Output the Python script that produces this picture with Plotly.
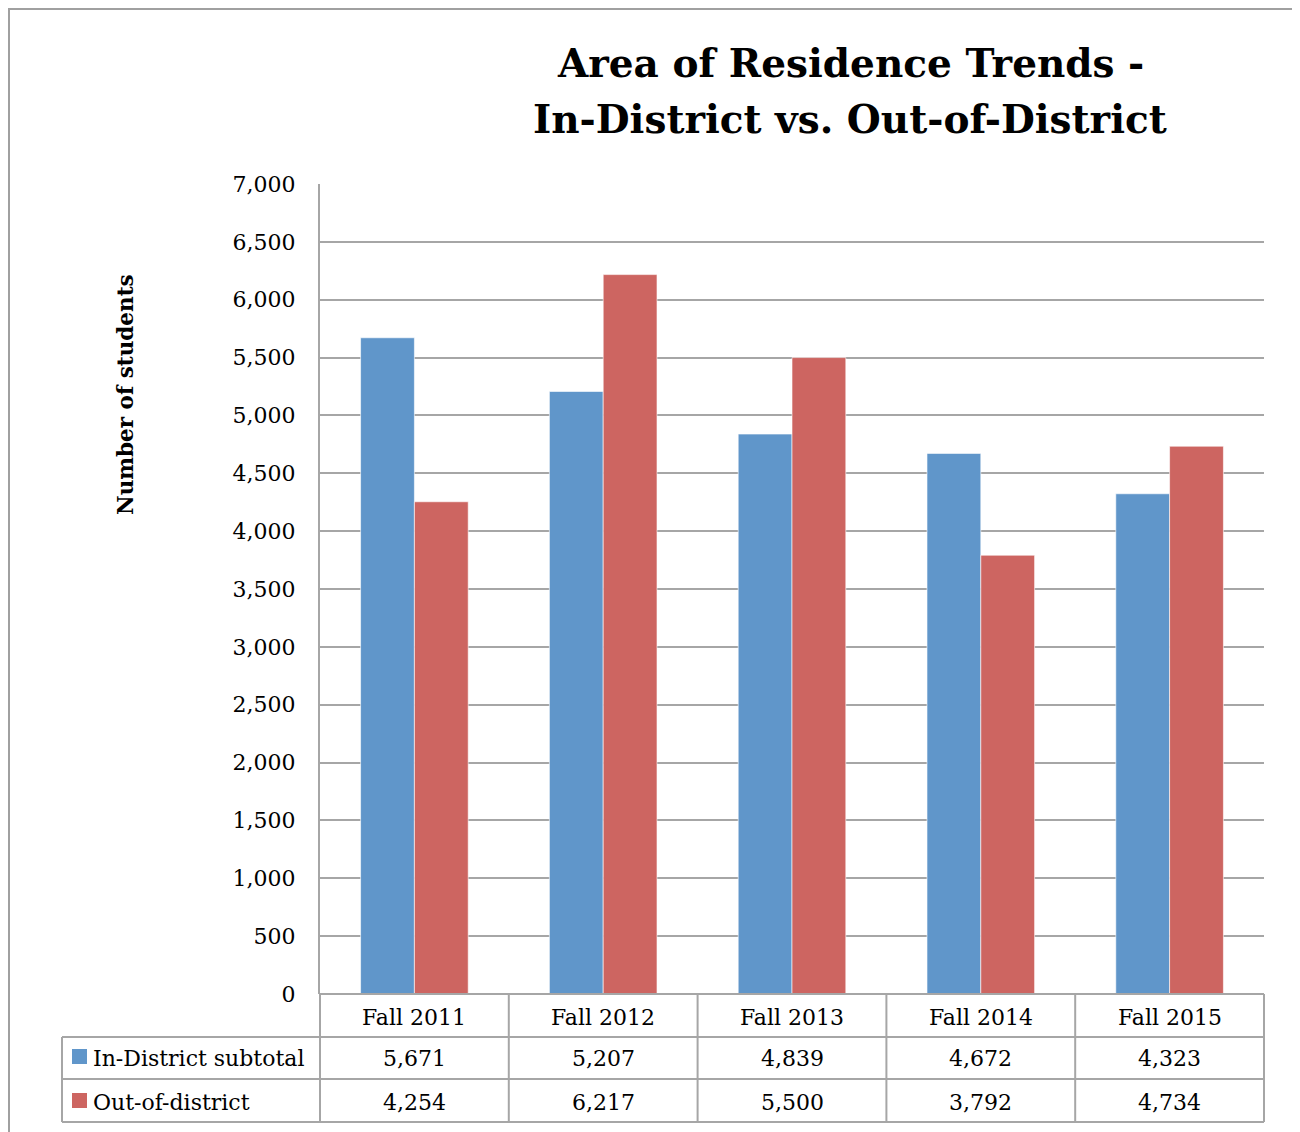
import plotly.graph_objects as go

categories = ["Fall 2011", "Fall 2012", "Fall 2013", "Fall 2014", "Fall 2015"]
in_district = [5671, 5207, 4839, 4672, 4323]
out_district = [4254, 6217, 5500, 3792, 4734]
series_names = ["In-District subtotal", "Out-of-district"]
colors = ["#6096CA", "#CD6561"]
y_ticks = list(range(0, 7001, 500))
title_lines = ["Area of Residence Trends -", "In-District vs. Out-of-District"]

FONT = "DejaVu Serif"
OFF = 8  # page body margin
W, H = 1300 - OFF, 1132 - OFF
# plot area in reference page pixels
PX0, PX1, PY0, PY1 = 320, 1264, 184, 994
L, T = PX0 - OFF, PY0 - OFF
R, B = W - (PX1 - OFF), H - (PY1 - OFF)
pw, ph = PX1 - PX0, PY1 - PY0

def px_x(x):  # reference page pixel -> paper x
    return (x - PX0) / pw

def px_y(y):  # reference page pixel -> paper y
    return (PY1 - y) / ph

fig = go.Figure()
for name, vals, col in zip(series_names, [in_district, out_district], colors):
    fig.add_trace(go.Bar(
        x=categories, y=vals, name=name,
        marker=dict(color=col, line=dict(color="rgba(255,255,255,0.6)", width=1)),
        showlegend=False,
    ))

shapes = []
grid = "#A6A6A6"
# outer border
shapes.append(dict(type="rect", xref="paper", yref="paper",
                   x0=px_x(OFF + 1), x1=px_x(1298), y0=px_y(1140), y1=px_y(OFF + 1),
                   line=dict(color="#A0A0A0", width=2), layer="below"))
row_y = [994, 1037, 1079, 1122]
n = len(categories)
# table horizontal lines
for ry in row_y[1:]:
    shapes.append(dict(type="line", xref="paper", yref="paper", x0=px_x(62), x1=1,
                       y0=px_y(ry), y1=px_y(ry), line=dict(color=grid, width=2)))
shapes.append(dict(type="line", xref="paper", yref="paper", x0=0, x1=1,
                   y0=0, y1=0, line=dict(color=grid, width=2)))
# table vertical lines at category boundaries
for i in range(n + 1):
    shapes.append(dict(type="line", xref="paper", yref="paper", x0=i / n, x1=i / n,
                       y0=px_y(row_y[3]), y1=0,
                       line=dict(color=grid, width=2)))
shapes.append(dict(type="line", xref="paper", yref="paper", x0=px_x(62), x1=px_x(62),
                   y0=px_y(row_y[1]), y1=px_y(row_y[3]), line=dict(color=grid, width=2)))

annotations = []
cell_font = dict(family=FONT, size=22, color="#000")
# header row
for i, c in enumerate(categories):
    annotations.append(dict(x=(i + 0.5) / n, xref="paper", y=px_y(1017), yref="paper",
                            xanchor="center", yanchor="middle",
                            text=c, showarrow=False, font=cell_font))
for r, (name, vals, col) in enumerate(zip(series_names, [in_district, out_district], colors)):
    yc = [1058, 1102][r]
    for i, v in enumerate(vals):
        annotations.append(dict(x=(i + 0.5) / n, xref="paper", y=px_y(yc), yref="paper",
                                xanchor="center", yanchor="middle",
                                text=f"{v:,}", showarrow=False, font=cell_font))
    annotations.append(dict(x=px_x(91), xref="paper", xanchor="left", y=px_y(yc), yref="paper",
                            yanchor="middle", text=name, showarrow=False, font=cell_font))
    shapes.append(dict(type="rect", xref="paper", yref="paper",
                       x0=px_x(72), x1=px_x(87), y0=px_y(yc + 6), y1=px_y(yc - 9),
                       fillcolor=col, line=dict(width=0)))

# y-axis title
annotations.append(dict(x=px_x(125), xref="paper", y=px_y(395), yref="paper",
                        xanchor="center", yanchor="middle",
                        text="<b>Number of students</b>", textangle=-90, showarrow=False,
                        font=dict(family=FONT, size=21.5, color="#000")))
# title (two lines)
for line, ty in zip(title_lines, [63, 119]):
    annotations.append(dict(x=px_x(850), xref="paper", y=px_y(ty), yref="paper",
                            xanchor="center", yanchor="middle",
                            text=f"<b>{line}</b>",
                            showarrow=False, font=dict(family=FONT, size=39, color="#000")))

fig.update_layout(
    width=W, height=H,
    margin=dict(l=L, r=R, t=T, b=B),
    paper_bgcolor="white", plot_bgcolor="white",
    barmode="group", bargap=0.43, bargroupgap=0,
    shapes=shapes, annotations=annotations,
    xaxis=dict(type="category", range=[-0.5, n - 0.5], showticklabels=False,
               showgrid=False, zeroline=False, showline=False, ticks=""),
    yaxis=dict(range=[0, 7000], tickvals=y_ticks, tickformat=",d",
               showgrid=True, gridcolor=grid, gridwidth=2,
               showline=True, linecolor=grid, linewidth=2,
               zeroline=False, ticks="", ticklabelstandoff=18,
               tickfont=dict(family=FONT, size=22, color="#000")),
)

fig.write_html("out.html")
